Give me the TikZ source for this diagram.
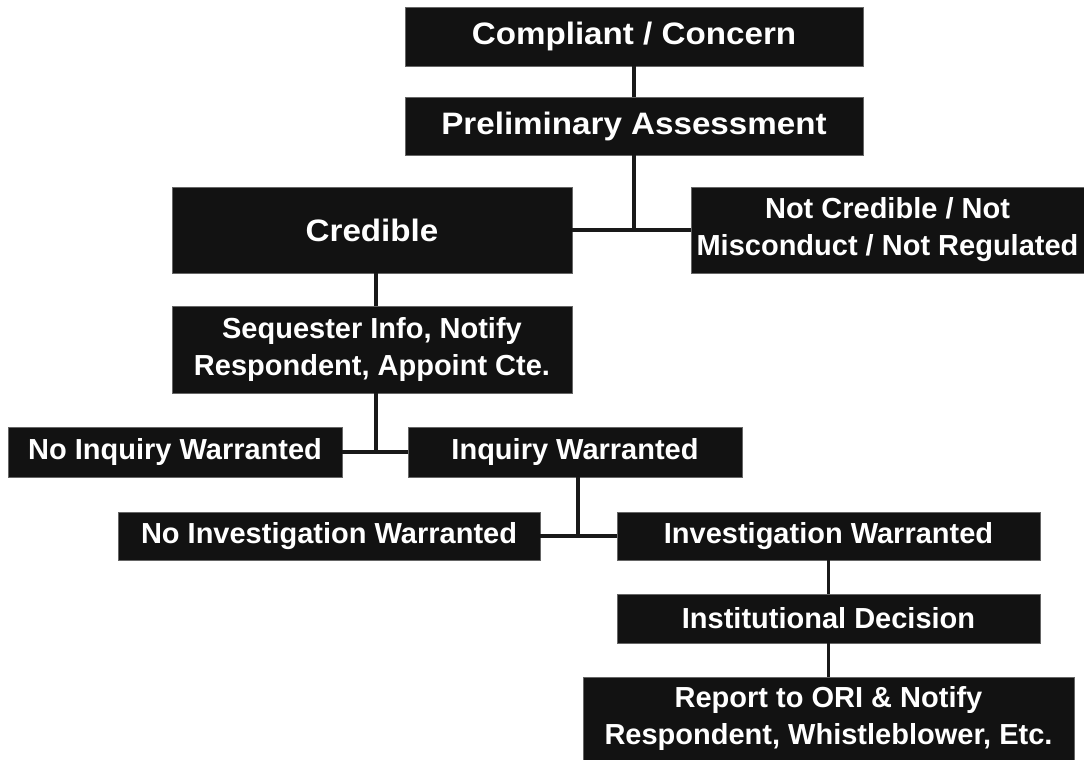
\documentclass[tikz,border=0pt]{standalone}
\usepackage{fontspec}
\setmainfont{Liberation Sans}
\newfontfamily\widefont[FakeStretch=1.07]{Liberation Sans}
\usetikzlibrary{positioning}

\begin{document}
\begin{tikzpicture}[
  x=1pt, y=-1pt,
  box/.style={fill=black!93, draw=black!60, line width=0.6pt, text=white,
    font=\bfseries\fontsize{29}{37}\selectfont, align=center,
    inner sep=0pt, outer sep=0pt},
  bigbox/.style={box, font=\widefont\bfseries\fontsize{31}{37}\selectfont},
  link/.style={line width=3.5pt, black!90}
]
\useasboundingbox (0,0) rectangle (1084,760);

% Top of the chart
\node[bigbox, minimum width=458pt, minimum height=59pt] (comp) at (634,36.5) {Compliant / Concern};
\node[bigbox, minimum width=458pt, minimum height=58pt] (prelim) at (634,126) {Preliminary Assessment};

% First decision
\node[bigbox, minimum width=400pt, minimum height=86pt] (cred) at (372,230) {Credible};
\node[box, minimum width=393pt, minimum height=86pt] (notcred) at (887.5,230)
  {Not Credible / Not\\Misconduct / Not Regulated};

% Inquiry stage
\node[box, minimum width=400pt, minimum height=87pt] (seq) at (372,349.5)
  {Sequester Info, Notify\\Respondent, Appoint Cte.};
\node[box, minimum width=334pt, minimum height=50pt] (noinq) at (175,452) {No Inquiry Warranted};
\node[box, minimum width=334pt, minimum height=50pt] (inq) at (575,452) {Inquiry Warranted};

% Investigation stage
\node[box, minimum width=422pt, minimum height=48pt] (noinv) at (329,536) {No Investigation Warranted};
\node[box, minimum width=423pt, minimum height=48pt] (inv) at (828.5,536) {Investigation Warranted};
\node[box, minimum width=423pt, minimum height=49pt] (dec) at (828.5,618.5) {Institutional Decision};
\node[box, minimum width=491pt, minimum height=83pt] (rep) at (828.5,718.5)
  {Report to ORI \& Notify\\Respondent, Whistleblower, Etc.};

% Connectors
\coordinate (j1) at (prelim.south |- cred.east);
\coordinate (j2) at ([xshift=4pt]seq.south |- noinq.east);
\coordinate (j3) at ([xshift=3pt]inq.south |- noinv.east);
\draw[link] (comp) -- (prelim);
\draw[link] (prelim) -- (j1);
\draw[link] (cred) -- (notcred);
\draw[link] ([xshift=4pt]cred.south) -- ([xshift=4pt]seq.north);
\draw[link] ([xshift=4pt]seq.south) -- (j2);
\draw[link] (noinq) -- (inq);
\draw[link] ([xshift=3pt]inq.south) -- (j3);
\draw[link] (noinv) -- (inv);
\draw[link] (inv) -- (dec);
\draw[link] (dec) -- (rep);

\end{tikzpicture}
\end{document}
